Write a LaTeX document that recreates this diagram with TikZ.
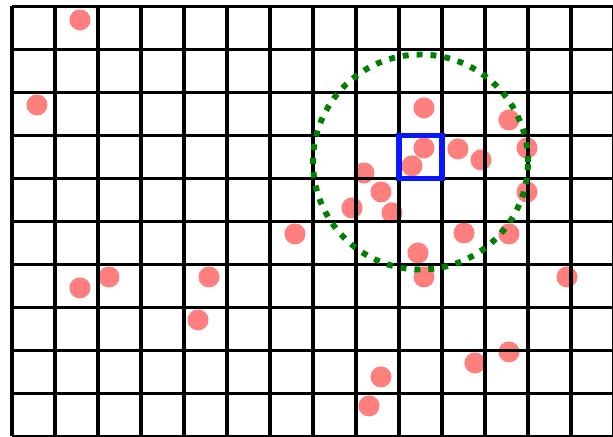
\documentclass[tikz,border=0pt]{standalone}
\usepackage{tikz}
\usetikzlibrary{positioning}
\definecolor{pointred}{RGB}{255,0,0}
\definecolor{ringgreen}{RGB}{0,128,0}
\definecolor{cellblue}{RGB}{10,24,255}

\begin{document}
\begin{tikzpicture}[x=1cm, y=1cm]
    % Styles
    \tikzstyle{gridline} = [black, line width=2pt]
    \tikzstyle{sample} = [circle, fill=pointred, fill opacity=0.5, inner sep=0pt, minimum size=0.49cm]
    \tikzstyle{ring} = [ringgreen, line width=3.9pt, dash pattern=on 3.9pt off 5.3pt]
    \tikzstyle{cellbox} = [draw=cellblue, line width=3.7pt]

    \fill[white] (-0.279,-0.013) rectangle (13.977,10.15);
    \useasboundingbox (-0.279,-0.013) rectangle (13.977,10.15);

    % Sample points
    \node[sample] (p1) at (1.581, 9.686) {};
    \node[sample] (p2) at (0.581, 7.709) {};
    \node[sample] (p3) at (9.581, 7.639) {};
    \node[sample] (p4) at (11.558, 7.360) {};
    \node[sample] (p5) at (9.581, 6.709) {};
    \node[sample] (p6) at (9.302, 6.291) {};
    \node[sample] (p7) at (10.372, 6.686) {};
    \node[sample] (p8) at (10.907, 6.430) {};
    \node[sample] (p9) at (11.977, 6.709) {};
    \node[sample] (p10) at (8.186, 6.127) {};
    \node[sample] (p11) at (8.581, 5.686) {};
    \node[sample] (p12) at (7.907, 5.314) {};
    \node[sample] (p13) at (8.837, 5.198) {};
    \node[sample] (p14) at (11.977, 5.686) {};
    \node[sample] (p15) at (10.512, 4.732) {};
    \node[sample] (p16) at (11.558, 4.709) {};
    \node[sample] (p17) at (9.442, 4.267) {};
    \node[sample] (p18) at (9.581, 3.709) {};
    \node[sample] (p19) at (6.581, 4.709) {};
    \node[sample] (p20) at (10.767, 1.709) {};
    \node[sample] (p21) at (11.558, 1.965) {};
    \node[sample] (p22) at (4.326, 2.709) {};
    \node[sample] (p23) at (2.256, 3.709) {};
    \node[sample] (p24) at (1.581, 3.454) {};
    \node[sample] (p25) at (4.581, 3.709) {};
    \node[sample] (p26) at (12.907, 3.709) {};
    \node[sample] (p27) at (8.581, 1.384) {};
    \node[sample] (p28) at (8.302, 0.710) {};

    % Grid
    \foreach \i in {0,...,14}
        \draw[gridline] (\i,0) -- (\i,10);
    \foreach \j in {0,...,10}
        \draw[gridline] (0,\j) -- (14,\j);

    % Neighbourhood and query cell
    \draw[ring] (9.5, 6.382) circle (2.5);
    \draw[cellbox] (9, 6) rectangle (10, 7);
\end{tikzpicture}
\end{document}
